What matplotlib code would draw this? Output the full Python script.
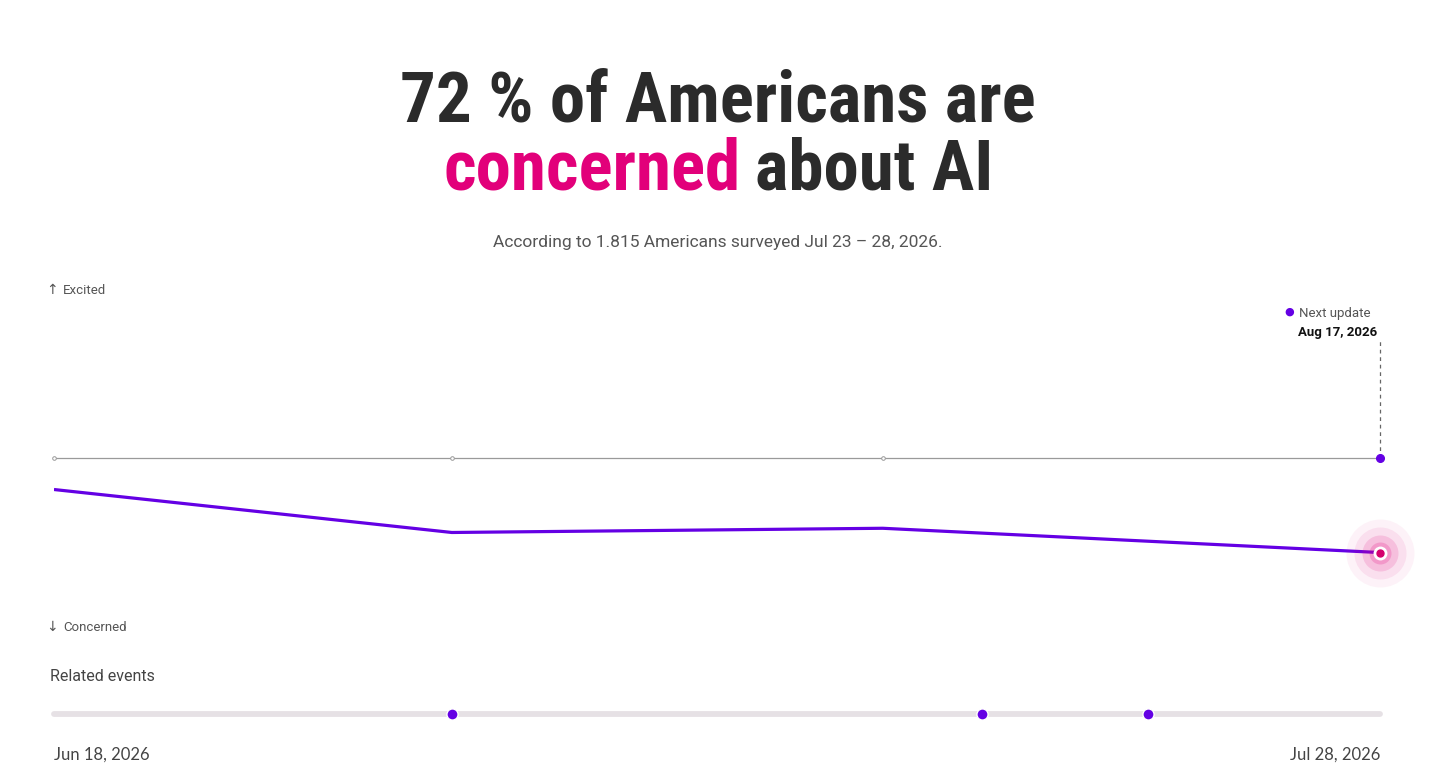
import matplotlib
matplotlib.use("Agg")
import matplotlib.pyplot as plt
import matplotlib.dates as mdates
from datetime import date

# survey waves: net sentiment (positive = excited, negative = concerned)
wave_dates = [date(2026, 6, 18), date(2026, 6, 30), date(2026, 7, 13), date(2026, 7, 28)]
net_sentiment = [-19, -44.5, -42, -56.4]
event_dates = [date(2026, 6, 30), date(2026, 7, 16), date(2026, 7, 21)]
next_update = "Aug 17, 2026"

W, H = 1456, 775
PURPLE = "#6400e4"
PINK = "#e2007a"
DARK = "#2b2b2b"
GREY = "#555555"

fig = plt.figure(figsize=(W / 100, H / 100), dpi=100)
fig.patch.set_facecolor("white")


def fx(px):
    return px / W


def fy(py):
    return 1 - py / H


title_font = ["Roboto Condensed", "Asap Condensed", "Roboto"]
body_font = ["Roboto", "DejaVu Sans"]
date_font = ["Lato", "DejaVu Sans"]

fig.text(fx(718), fy(122), "72 % of Americans are", ha="center", va="baseline",
         fontsize=51, fontweight="bold", color=DARK, family=title_font)
fig.text(fx(741), fy(190), "concerned", ha="right", va="baseline",
         fontsize=51, fontweight="bold", color=PINK, family=title_font)
fig.text(fx(755), fy(190), "about AI", ha="left", va="baseline",
         fontsize=51, fontweight="bold", color=DARK, family=title_font)
fig.text(fx(718), fy(247), "According to 1.815 Americans surveyed Jul 23 – 28, 2026.",
         ha="center", va="baseline", fontsize=12.5, color=GREY, family=body_font)

# direction labels
fig.text(fx(46), fy(294), "↑", ha="left", va="baseline", fontsize=10,
         color=GREY, family="DejaVu Sans")
fig.text(fx(63), fy(294), "Excited", ha="left", va="baseline", fontsize=9.5,
         color=GREY, family=body_font)
fig.text(fx(46), fy(631), "↓", ha="left", va="baseline", fontsize=10,
         color=GREY, family="DejaVu Sans")
fig.text(fx(63), fy(631), "Concerned", ha="left", va="baseline", fontsize=9.5,
         color=GREY, family=body_font)

# main chart
xs = mdates.date2num(wave_dates)
ax = fig.add_axes([fx(54), fy(626), fx(1326), (626 - 289) / H])
ax.set_xlim(xs[0], xs[-1])
ax.set_ylim(-100, 100)
ax.axis("off")

ax.plot([xs[0], xs[-1]], [0, 0], color="#9a9a9a", lw=0.9, zorder=1)
ax.plot(xs[:-1], [0] * (len(xs) - 1), "o", ms=2.6, mfc="white", mec="#9a9a9a",
        mew=0.7, zorder=2, clip_on=False)
ax.plot(xs[-1], 0, "o", ms=5.5, color=PURPLE, zorder=3, clip_on=False)

# dashed line to next update label
ax.plot([xs[-1], xs[-1]], [0, 70], color="#666666", lw=0.9, ls=(0, (3, 3)),
        zorder=1, clip_on=False)

ax.plot(xs, net_sentiment, color=PURPLE, lw=2.3, solid_capstyle="butt", zorder=4)

# pulsing marker at latest value
for r, a in [(34, 0.05), (26, 0.08), (18, 0.14), (11, 0.2)]:
    ax.plot(xs[-1], net_sentiment[-1], "o", ms=2 * r * 0.72, color=PINK, alpha=a,
            mew=0, zorder=5, clip_on=False)
ax.plot(xs[-1], net_sentiment[-1], "o", ms=9, mfc="white", mec="white", zorder=6,
        clip_on=False)
ax.plot(xs[-1], net_sentiment[-1], "o", ms=5, color="#d4006e", zorder=7, clip_on=False)

fig.text(fx(1289), fy(312), "●", ha="center", va="center", fontsize=8,
         color=PURPLE, family="DejaVu Sans")
fig.text(fx(1299), fy(317), "Next update", ha="left", va="baseline", fontsize=9.5,
         color=GREY, family=body_font)
fig.text(fx(1377), fy(336), next_update, ha="right", va="baseline", fontsize=9.5,
         fontweight="bold", color="#111111", family=body_font)

# related events timeline
fig.text(fx(50), fy(681), "Related events", ha="left", va="baseline", fontsize=11.5,
         color="#444444", family=body_font)
tx = fig.add_axes([fx(54), fy(724), fx(1326), 20 / H])
tx.set_xlim(xs[0], xs[-1])
tx.set_ylim(-1, 1)
tx.axis("off")
tx.plot([xs[0], xs[-1]], [0, 0], color="#e6e1e5", lw=4.2, solid_capstyle="round",
        clip_on=False, zorder=1)
tx.plot(mdates.date2num(event_dates), [0] * len(event_dates), "o", ms=8,
        mfc=PURPLE, mec="white", mew=1, zorder=2, clip_on=False)

fig.text(fx(54), fy(760), wave_dates[0].strftime("%b %d, %Y"), ha="left",
         va="baseline", fontsize=12, color="#444444", family=date_font)
fig.text(fx(1380), fy(760), wave_dates[-1].strftime("%b %d, %Y"), ha="right",
         va="baseline", fontsize=12, color="#444444", family=date_font)

fig.savefig("out.png", dpi=100, facecolor="white")
